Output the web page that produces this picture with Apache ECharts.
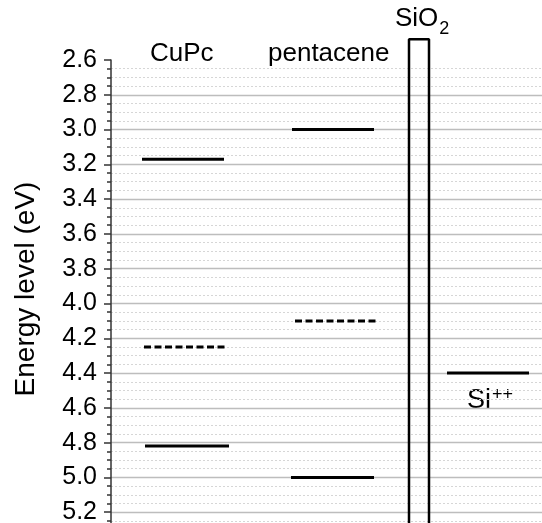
<!DOCTYPE html>
<html>
<head>
<meta charset="utf-8">
<script src="https://cdn.jsdelivr.net/npm/echarts@6/dist/echarts.min.js"></script>
<style>
  html, body { margin: 0; padding: 0; background: #fff; }
  #chart { width: 542px; height: 523px; }
</style>
</head>
<body>
<div id="chart"></div>
<script>
// Energy levels (eV) of each layer
const materials = ['CuPc', 'pentacene'];
const lumoLevels = [3.17, 3.00];      // solid upper lines
const fermiLevels = [4.25, 4.10];     // dashed lines
const homoLevels = [4.82, 5.00];      // solid lower lines
const siFermi = 4.40;                 // Si++ level
const sio2Top = 2.48;                 // top edge of the SiO2 barrier
const yTicks = [2.6, 2.8, 3.0, 3.2, 3.4, 3.6, 3.8, 4.0, 4.2, 4.4, 4.6, 4.8, 5.0, 5.2];
const yTitle = 'Energy level (eV)';

// horizontal layout of each column (x axis is a hidden 0..431 scale)
const lumoSpan = [[31, 113], [181, 263]];
const fermiSpan = [[33, 116], [184, 267]];
const homoSpan = [[34, 118], [180, 263]];
const sio2Span = [298, 318];
const siSpan = [336, 418];

const series = [];
function level(span, v, dashed) {
  series.push({
    type: 'line',
    data: [[span[0], v], [span[1], v]],
    symbol: 'none',
    silent: true,
    lineStyle: { color: '#000', width: 3, type: dashed ? [7, 3.5] : 'solid' }
  });
}
materials.forEach((m, i) => {
  level(lumoSpan[i], lumoLevels[i], false);
  level(fermiSpan[i], fermiLevels[i], true);
  level(homoSpan[i], homoLevels[i], false);
});
level(siSpan, siFermi, false);

// SiO2 barrier drawn as an open rectangle running off the bottom
series.push({
  type: 'line',
  clip: false,
  data: [[sio2Span[0], 5.4], [sio2Span[0], sio2Top], [sio2Span[1], sio2Top], [sio2Span[1], 5.4]],
  symbol: 'none',
  silent: true,
  lineStyle: { color: '#000', width: 2.5 }
});

const font = 'Liberation Sans, Arial, sans-serif';
const chart = echarts.init(document.getElementById('chart'), null, { renderer: 'canvas' });
chart.setOption({
  animation: false,
  backgroundColor: '#fff',
  // plot area runs past the bottom edge of the canvas
  grid: { left: 111, width: 431, top: 60, height: 487, outerBoundsMode: 'none', containLabel: false },
  xAxis: {
    type: 'value', min: 0, max: 431, show: false
  },
  yAxis: {
    type: 'value',
    inverse: true,
    min: 2.6,
    max: 5.4,
    interval: 0.2,
    axisLine: { show: true, lineStyle: { color: '#333', width: 1.5 } },
    axisTick: { show: true, inside: false, length: 7, lineStyle: { color: '#333', width: 1.5 } },
    minorTick: { show: true, splitNumber: 4, length: 4, lineStyle: { color: '#333', width: 1.5 } },
    axisLabel: {
      fontFamily: font, fontSize: 25, color: '#000', margin: 14,
      formatter: v => {
        const t = yTicks.find(k => Math.abs(k - v) < 1e-6);
        return t === undefined ? '' : t.toFixed(1);
      }
    },
    splitLine: { show: true, showMinLine: false, lineStyle: { color: '#bdbdbd', width: 1.3 } },
    minorSplitLine: { show: true, lineStyle: { color: '#d6d6d6', width: 1, type: [2, 2] } }
  },
  graphic: [
    {
      type: 'text', x: 26, y: 289, rotation: Math.PI / 2,
      style: { text: yTitle, font: '28px ' + font, fill: '#000', align: 'center', verticalAlign: 'middle' }
    },
    { type: 'text', left: 150, top: 41, style: { text: materials[0], font: '26px ' + font, fill: '#000' } },
    { type: 'text', left: 268, top: 41, style: { text: materials[1], font: '26px ' + font, fill: '#000' } },
    {
      type: 'text', left: 395, top: 6,
      style: {
        text: '{m|SiO}{s|2}',
        rich: {
          m: { font: '26px ' + font, fill: '#000', verticalAlign: 'bottom' },
          s: { font: '18px ' + font, fill: '#000', verticalAlign: 'bottom', padding: [0, 0, -6, 1] }
        }
      }
    },
    {
      type: 'text', left: 467, top: 386,
      style: {
        text: '{m|Si}{s|++}',
        rich: {
          m: { font: '27px ' + font, fill: '#000', verticalAlign: 'bottom' },
          s: { font: '18px ' + font, fill: '#000', verticalAlign: 'bottom', padding: [0, 0, 10, 1] }
        }
      }
    }
  ],
  series: series
});
</script>
</body>
</html>
